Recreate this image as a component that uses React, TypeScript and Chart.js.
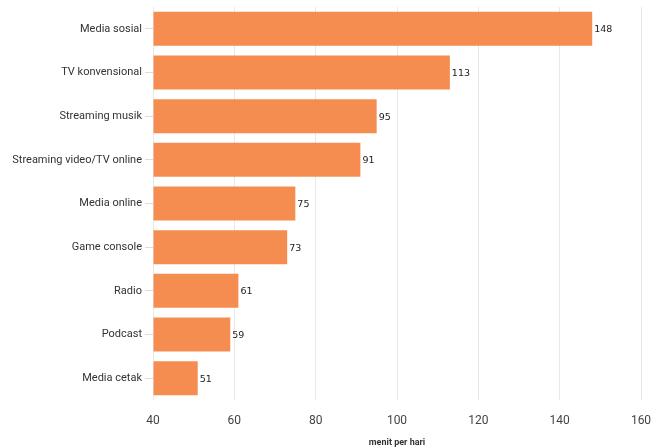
import React, { useEffect, useRef } from "react";
import { Chart, registerables } from "chart.js";

Chart.register(...registerables);

const categories = [
  "Media sosial",
  "TV konvensional",
  "Streaming musik",
  "Streaming video/TV online",
  "Media online",
  "Game console",
  "Radio",
  "Podcast",
  "Media cetak",
];
const values = [148, 113, 95, 91, 75, 73, 61, 59, 51];
const xTicks = [40, 60, 80, 100, 120, 140, 160];
const axisTitle = "menit per hari";

const valueLabels = {
  id: "valueLabels",
  afterDatasetsDraw(chart: any) {
    const ctx = chart.ctx;
    const meta = chart.getDatasetMeta(0);
    ctx.save();
    ctx.font = "9.5px 'DejaVu Sans'";
    ctx.fillStyle = "#222";
    ctx.textAlign = "left";
    ctx.textBaseline = "middle";
    meta.data.forEach((bar: any, i: number) => {
      ctx.fillText(String(values[i]), bar.x + 2, bar.y + 1);
    });
    ctx.restore();
  },
};

export default function App() {
  const ref = useRef<HTMLCanvasElement>(null);
  useEffect(() => {
    document.body.style.margin = "0";
    const chart = new Chart(ref.current!, {
      type: "bar",
      data: {
        labels: categories,
        datasets: [
          {
            data: values,
            backgroundColor: "rgba(244,135,72,0.95)",
            categoryPercentage: 0.78,
            barPercentage: 1,
            base: 40,
          },
        ],
      },
      plugins: [valueLabels],
      options: {
        indexAxis: "y",
        animation: false,
        responsive: false,
        layout: { padding: { top: 7, right: 0, bottom: 0, left: 0 } },
        plugins: { legend: { display: false }, tooltip: { enabled: false } },
        scales: {
          x: {
            min: 40,
            max: 160,
            afterBuildTicks: (s: any) => {
              s.ticks = xTicks.map((v) => ({ value: v }));
            },
            afterFit: (s: any) => {
              s.height = 48;
              s.paddingRight = 10;
              s.paddingLeft = 0;
            },
            grid: { color: "#e8e8e8", drawTicks: false },
            border: { display: false },
            ticks: { color: "#444", font: { family: "Roboto", size: 12 }, padding: 14 },
            title: {
              display: true,
              text: axisTitle,
              color: "#333",
              font: { family: "Roboto", size: 9, weight: "bold" },
              padding: { top: 4, bottom: 0 },
            },
          },
          y: {
            afterFit: (s: any) => {
              s.width = 153;
              s.paddingTop = 0;
              s.paddingBottom = 0;
            },
            grid: { drawOnChartArea: false, color: "#ddd", tickLength: 8, offset: false },
            border: { display: false },
            ticks: { color: "#333", font: { family: "Roboto", size: 11 }, padding: 3 },
          },
        },
      },
    });
    return () => chart.destroy();
  }, []);
  return (
    <div style={{ width: 651, height: 448 }}>
      <canvas ref={ref} width={651} height={448} />
    </div>
  );
}
